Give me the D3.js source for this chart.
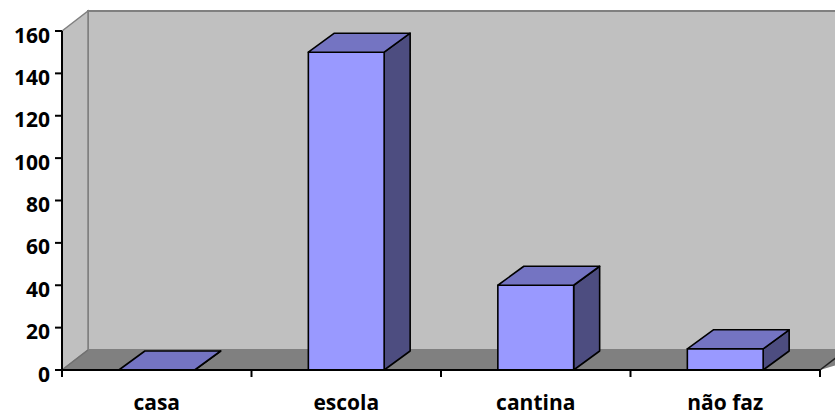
<!DOCTYPE html>
<html>
<head>
<meta charset="utf-8">
<script src="https://cdn.jsdelivr.net/npm/d3@7"></script>
<style>
  html, body { margin: 0; padding: 0; background: #fff; }
  svg { display: block; }
</style>
</head>
<body>
<svg id="chart" width="835" height="416"></svg>
<script>
// Where students eat their snack
const categories = ["casa", "escola", "cantina", "não faz"];
const values = [0, 150, 40, 10];
const yTicks = [0, 20, 40, 60, 80, 100, 120, 140, 160];

const W = 835, H = 416;
const svg = d3.select("#chart");

// Front plane of the 3D plot box
const plot = { left: 62, right: 820, top: 31, bottom: 370 };
// Depth offset of the back wall and of each column
const wallDx = 26, wallDy = -20;
const barDx = 26, barDy = -19;

const x = d3.scaleBand()
  .domain(categories)
  .range([plot.left, plot.right])
  .paddingInner(0.6)
  .paddingOuter(0.3);

const xTickScale = d3.scaleLinear()
  .domain([0, categories.length])
  .range([plot.left, plot.right]);

const y = d3.scaleLinear()
  .domain([0, 160])
  .range([plot.bottom, plot.top]);

const pts = p => p.map(d => d.join(",")).join(" ");

// Back wall
svg.append("rect")
  .attr("x", plot.left + wallDx)
  .attr("y", plot.top + wallDy)
  .attr("width", W - plot.left)
  .attr("height", plot.bottom - plot.top)
  .attr("fill", "#c0c0c0")
  .attr("stroke", "#808080")
  .attr("stroke-width", 2);

// Left side wall
svg.append("polygon")
  .attr("points", pts([
    [plot.left, plot.top],
    [plot.left + wallDx, plot.top + wallDy],
    [plot.left + wallDx, plot.bottom + wallDy],
    [plot.left, plot.bottom]
  ]))
  .attr("fill", "#c0c0c0")
  .attr("stroke", "#808080")
  .attr("stroke-width", 1.5);

// Floor
svg.append("polygon")
  .attr("points", pts([
    [plot.left, plot.bottom],
    [plot.left + wallDx, plot.bottom + wallDy],
    [plot.right + wallDx + 40, plot.bottom + wallDy],
    [plot.right, plot.bottom]
  ]))
  .attr("fill", "#808080")
  .attr("stroke", "none");

svg.append("line")
  .attr("x1", plot.right).attr("y1", plot.bottom)
  .attr("x2", plot.right + wallDx).attr("y2", plot.bottom + wallDy)
  .attr("stroke", "#202020")
  .attr("stroke-width", 1.5);

svg.append("line")
  .attr("x1", plot.left).attr("y1", plot.bottom)
  .attr("x2", plot.left + wallDx).attr("y2", plot.bottom + wallDy)
  .attr("stroke", "#707070")
  .attr("stroke-width", 1.5);

// Columns
const bars = svg.append("g").selectAll("g")
  .data(categories.map((c, i) => ({ c, v: values[i] })))
  .join("g")
  .attr("stroke", "#000")
  .attr("stroke-width", 1.6)
  .attr("stroke-linejoin", "round");

bars.each(function (d) {
  const g = d3.select(this);
  const x0 = x(d.c), x1 = x0 + x.bandwidth();
  const yt = y(d.v), yb = y(0);
  // side face
  g.append("polygon")
    .attr("points", pts([[x1, yt], [x1 + barDx, yt + barDy], [x1 + barDx, yb + barDy], [x1, yb]]))
    .attr("fill", "#4d4d80");
  // front face
  if (d.v > 0) {
    g.append("rect")
      .attr("x", x0).attr("y", yt)
      .attr("width", x1 - x0).attr("height", yb - yt)
      .attr("fill", "#9999ff");
  }
  // top face
  g.append("polygon")
    .attr("points", pts([[x0, yt], [x0 + barDx, yt + barDy], [x1 + barDx, yt + barDy], [x1, yt]]))
    .attr("fill", "#7474c2");
});

// Y axis
const yAxis = svg.append("g");
yAxis.append("line")
  .attr("x1", plot.left).attr("x2", plot.left)
  .attr("y1", plot.top).attr("y2", plot.bottom + 7)
  .attr("stroke", "#000").attr("stroke-width", 2);
yAxis.selectAll("line.tick")
  .data(yTicks)
  .join("line")
  .attr("class", "tick")
  .attr("x1", plot.left - 7).attr("x2", plot.left)
  .attr("y1", d => y(d)).attr("y2", d => y(d))
  .attr("stroke", "#000").attr("stroke-width", 2);
yAxis.selectAll("text")
  .data(yTicks)
  .join("text")
  .attr("x", 50)
  .attr("y", d => y(d) + 11.5)
  .attr("text-anchor", "end")
  .attr("font-family", "'Open Sans', sans-serif")
  .attr("font-weight", 700)
  .attr("font-size", 21)
  .attr("fill", "#000")
  .text(d => d);

// X axis
const xAxis = svg.append("g");
xAxis.append("line")
  .attr("x1", plot.left).attr("x2", plot.right)
  .attr("y1", plot.bottom).attr("y2", plot.bottom)
  .attr("stroke", "#000").attr("stroke-width", 2);
xAxis.selectAll("line.tick")
  .data(d3.range(1, categories.length + 1))
  .join("line")
  .attr("class", "tick")
  .attr("x1", d => xTickScale(d)).attr("x2", d => xTickScale(d))
  .attr("y1", plot.bottom).attr("y2", plot.bottom + 7)
  .attr("stroke", "#000").attr("stroke-width", 2);
xAxis.selectAll("text")
  .data(categories)
  .join("text")
  .attr("x", d => x(d) + x.bandwidth() / 2)
  .attr("y", 410)
  .attr("text-anchor", "middle")
  .attr("font-family", "'Open Sans', sans-serif")
  .attr("font-weight", 700)
  .attr("font-size", 21)
  .attr("fill", "#000")
  .text(d => d);
</script>
</body>
</html>
